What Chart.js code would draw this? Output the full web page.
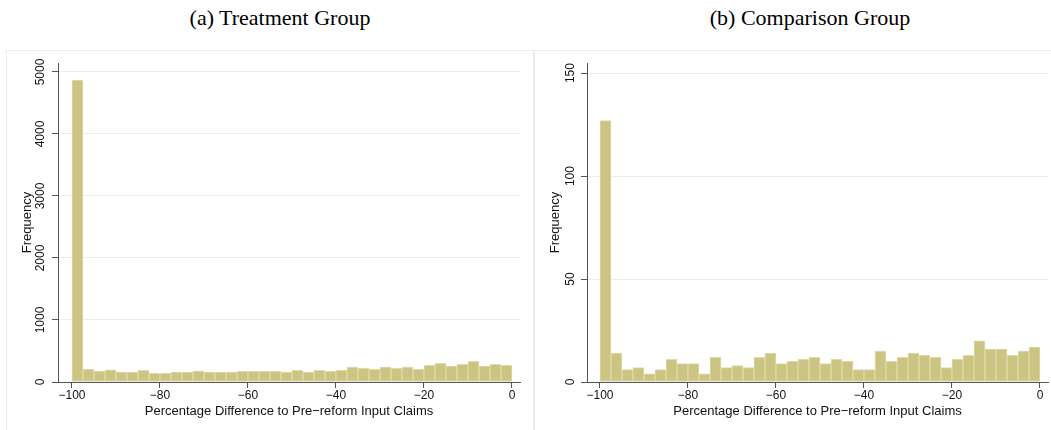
<!DOCTYPE html>
<html>
<head>
<meta charset="utf-8">
<script src="https://cdn.jsdelivr.net/npm/chart.js@4/dist/chart.umd.min.js"></script>
<style>
  html, body { margin: 0; padding: 0; background: #fff; width: 1051px; height: 430px; overflow: hidden; }
  .title {
    position: absolute; top: 5px; transform: translateX(-50%);
    font-family: 'Liberation Serif', 'Times New Roman', serif; font-size: 22px;
    color: #000; white-space: nowrap;
  }
  .frame { position: absolute; top: 50px; height: 400px; border: 1px solid #e4edf0; box-sizing: border-box; }
  .frame canvas { position: absolute; left: 0; top: 0; }
</style>
</head>
<body>
<div class="title" style="left:280px">(a) Treatment Group</div>
<div class="title" style="left:810px">(b) Comparison Group</div>
<div class="frame" style="left:6px;width:528px"><canvas id="treat" width="525" height="379" style="width:525px;height:379px"></canvas></div>
<div class="frame" style="left:534px;width:520px"><canvas id="comp" width="516" height="379" style="width:516px;height:379px"></canvas></div>
<script>
// Histogram bins: 40 bins of width 2.5 covering -100 .. 0 (percent change)
const binStart = -100;
const binWidth = 2.5;

// Frequencies per bin, treatment group
const treatmentCounts = [4870, 210, 175, 195, 160, 160, 190, 140, 140, 160,
                         160, 175, 160, 160, 160, 172, 172, 172, 172, 160,
                         190, 160, 190, 172, 190, 240, 220, 205, 240, 220,
                         240, 205, 270, 300, 255, 285, 335, 255, 285, 270];

// Frequencies per bin, comparison group
const comparisonCounts = [127, 14, 6, 7, 4, 6, 11, 9, 9, 4,
                          12, 7, 8, 7, 12, 14, 9, 10, 11, 12,
                          9, 11, 10, 6, 6, 15, 10, 12, 14, 13,
                          12, 7, 11, 13, 20, 16, 16, 13, 15, 17];

// Axis ticks
const xTicks = [-100, -80, -60, -40, -20, 0];
const treatmentYTicks = [0, 1000, 2000, 3000, 4000, 5000];
const comparisonYTicks = [0, 50, 100, 150];

const xTitle = 'Percentage Difference to Pre\u2212reform Input Claims';
const yTitle = 'Frequency';

Chart.defaults.font.family = "'Liberation Sans', Arial, Helvetica, sans-serif";
Chart.defaults.color = '#111111';

const BAR_FILL = '#ccc483';
const BAR_EDGE = '#e0daa9';
const AXIS = '#555555';
const GRID = '#e7eff1';

function toPoints(counts) {
  return counts.map((c, i) => ({ x: binStart + binWidth * (i + 0.5), y: c }));
}

function fmtNum(v) {
  return v < 0 ? '\u2212' + Math.abs(v) : String(v);
}

function makeHist(id, counts, yTicks, cfg) {
  return new Chart(document.getElementById(id), {
    type: 'bar',
    data: {
      datasets: [{
        data: toPoints(counts),
        backgroundColor: BAR_FILL,
        borderColor: BAR_EDGE,
        borderWidth: 1,
        barPercentage: 1,
        categoryPercentage: 1,
        borderSkipped: false
      }]
    },
    options: {
      responsive: false,
      animation: false,
      events: [],
      layout: { padding: { left: 0, top: 12, right: cfg.padRight, bottom: 0 } },
      plugins: { legend: { display: false }, tooltip: { enabled: false } },
      scales: {
        x: {
          type: 'linear',
          min: cfg.xMin,
          max: cfg.xMax,
          offset: false,
          afterBuildTicks: s => { s.ticks = xTicks.map(v => ({ value: v })); },
          afterFit: s => { s.height = 48; },
          grid: { offset: false, drawOnChartArea: false, tickColor: AXIS, tickLength: 6, tickWidth: 1 },
          border: { display: true, color: AXIS, width: 1 },
          ticks: { autoSkip: false, maxRotation: 0, minRotation: 0, padding: 0,
                   font: { size: 12 }, callback: v => fmtNum(v) },
          title: { display: true, text: xTitle, font: { size: 13 },
                   padding: { top: 0, bottom: 11 } }
        },
        y: {
          type: 'linear',
          min: 0,
          max: cfg.yMax,
          afterBuildTicks: s => { s.ticks = yTicks.map(v => ({ value: v })); },
          afterFit: s => { s.width = cfg.yWidth; },
          grid: {
            color: c => (c.tick && c.tick.value === 0) ? 'rgba(0,0,0,0)' : GRID,
            lineWidth: 1, tickColor: AXIS, tickLength: 6, tickWidth: 1
          },
          border: { display: true, color: AXIS, width: 1 },
          ticks: { autoSkip: false, minRotation: 90, maxRotation: 90, crossAlign: 'center',
                   padding: cfg.yPad, font: { size: 12 }, callback: v => fmtNum(v) },
          title: { display: true, text: yTitle, font: { size: 13 },
                   padding: { top: cfg.yTitlePad, bottom: 0 } }
        }
      }
    }
  });
}

makeHist('treat', treatmentCounts, treatmentYTicks,
  { xMin: -103.18, xMax: 1.82, yMax: 5145, yWidth: 51, padRight: 12, yPad: -2, yTitlePad: 13 });
makeHist('comp', comparisonCounts, comparisonYTicks,
  { xMin: -102.95, xMax: 1.82, yMax: 154.9, yWidth: 52, padRight: 3, yPad: 0, yTitlePad: 13 });
</script>
</body>
</html>
